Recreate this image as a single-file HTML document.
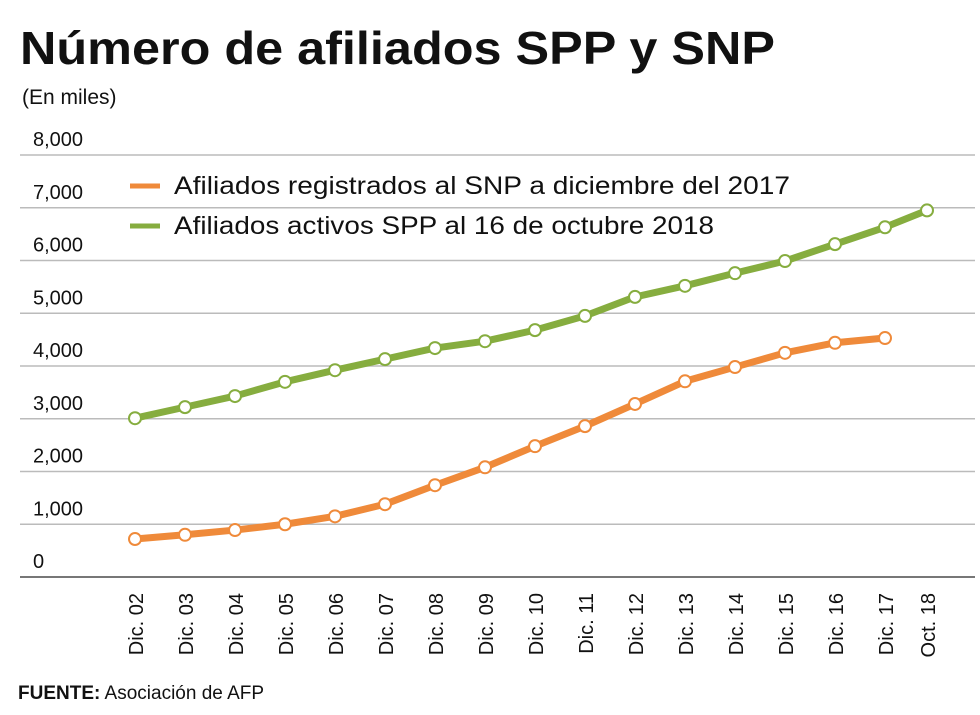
<!DOCTYPE html>
<html><head><meta charset="utf-8"><style>
body{margin:0;background:#fff;}
svg{display:block;font-family:"Liberation Sans",sans-serif;}
</style></head><body>
<svg id="chart" width="980" height="715" viewBox="0 0 980 715">
<text x="20" y="64" font-size="46" font-weight="bold" fill="#111" textLength="755" lengthAdjust="spacingAndGlyphs">Número de afiliados SPP y SNP</text>
<text x="22" y="104" font-size="21" fill="#111">(En miles)</text>
<g id="grid"></g>
<g id="lines"></g>
<g id="legend">
<line x1="130" y1="186" x2="160" y2="186" stroke="#ef8a3a" stroke-width="5"/>
<text x="174" y="194" font-size="25" fill="#111" textLength="616" lengthAdjust="spacingAndGlyphs">Afiliados registrados al SNP a diciembre del 2017</text>
<line x1="130" y1="226" x2="160" y2="226" stroke="#86ad3f" stroke-width="5"/>
<text x="174" y="234" font-size="25" fill="#111" textLength="540" lengthAdjust="spacingAndGlyphs">Afiliados activos SPP al 16 de octubre 2018</text>
</g>
<text x="18" y="699" font-size="19" fill="#111"><tspan font-weight="bold">FUENTE:</tspan> Asociación de AFP</text>
</svg>
<script>
const categories=["Dic. 02","Dic. 03","Dic. 04","Dic. 05","Dic. 06","Dic. 07","Dic. 08","Dic. 09","Dic. 10","Dic. 11","Dic. 12","Dic. 13","Dic. 14","Dic. 15","Dic. 16","Dic. 17","Oct. 18"];
const sppValues=[3010,3220,3430,3700,3920,4130,4340,4470,4680,4950,5310,5520,5760,5990,6310,6630,6950];
const snpValues=[720,800,890,1000,1150,1380,1740,2080,2480,2860,3280,3710,3980,4250,4440,4530];
const yTicks=[0,1000,2000,3000,4000,5000,6000,7000,8000];
const yTickLabels=["0","1,000","2,000","3,000","4,000","5,000","6,000","7,000","8,000"];
const NS="http://www.w3.org/2000/svg";
function xs(i){return i<16?135+i*50:927;}
function ys(v){return 577-v*(422/8000);}
function mk(tag,attrs,parent){const e=document.createElementNS(NS,tag);for(const k in attrs)e.setAttribute(k,attrs[k]);parent.appendChild(e);return e;}
const grid=document.getElementById('grid'),lines=document.getElementById('lines');
yTicks.forEach((t,i)=>{
 const l=mk('line',{x1:20,x2:975,y1:ys(t),y2:ys(t),stroke:i==0?'#777':'#bbb','stroke-width':i==0?2:1.5},grid);
 
 
 const tx=mk('text',{x:33,y:ys(t)-9,'font-size':20,fill:'#111'},grid);
 tx.textContent=yTickLabels[i];
 
 
});
categories.forEach((c,i)=>{
 const x=xs(i)+8;
 const tx=mk('text',{x:x,y:593,'font-size':20,fill:'#111','text-anchor':'end',transform:`rotate(-90 ${x} 593)`},grid);
 tx.textContent=c;
 
 
});
function series(vals,color,name){
 const p=mk('polyline',{points:vals.map((v,i)=>xs(i)+','+ys(v)).join(' '),fill:'none',stroke:color,'stroke-width':7,'stroke-linejoin':'round'},lines);
 
 
 vals.forEach((v,i)=>{
  const c=mk('circle',{cx:xs(i),cy:ys(v),r:6,fill:'#fff',stroke:color,'stroke-width':2},lines);
  
  
 });
}
series(sppValues,'#86ad3f','spp');
series(snpValues,'#ef8a3a','snp');
</script>
</body></html>
